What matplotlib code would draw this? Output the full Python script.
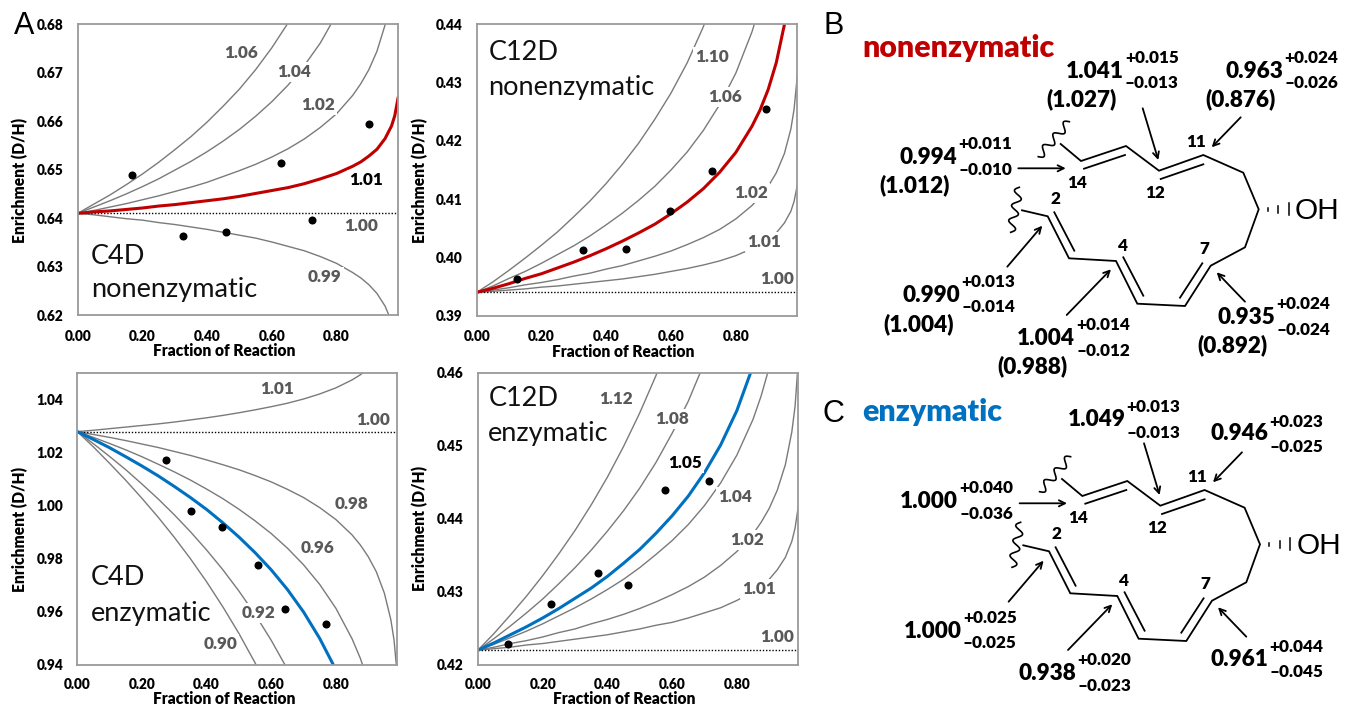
#D/H enrichment curves for the four reactions + the two labelled structures
import numpy as np
import matplotlib
matplotlib.use('Agg')
import matplotlib.pyplot as plt

plt.rcParams['font.family'] = ['Lato', 'DejaVu Sans']

W, H = 1346, 707
RED = '#C00000'
BLUE = '#0070C0'
GREY = '#7a7a7a'
LABEL = '#595959'
BOLD = 'heavy'

frac = [0, .05, .1, .15, .2, .25, .3, .35, .4, .45, .5, .55, .6, .65, .7, .75, .8, .85, .875, .9, .925, .95, .97, .98, .99]

#C4D nonenzymatic
c4n_106 = [.641, .6429, .6448, .6469, .6491, .6515, .6541, .6568, .6598, .6631, .6666, .6706, .6751, .6802, .6862]
c4n_104 = [.641, .6423, .6436, .6450, .6465, .6481, .6499, .6517, .6537, .6559, .6583, .6610, .6640, .6674, .6714, .6761, .6820]
c4n_102 = [.641, .6416, .6423, .6430, .6438, .6446, .6455, .6464, .6474, .6486, .6498, .6511, .6526, .6543, .6563, .6587, .6615, .6653, .6677, .6706, .6744, .6798, .6866]
c4n_101 = [.641, .6413, .6415, .6418, .6421, .6425, .6428, .6432, .6436, .6440, .6445, .6451, .6457, .6463, .6471, .6481, .6492, .6507, .6516, .6528, .6542, .6564, .6590, .6611, .6647]
c4n_099 = [.641, .6407, .6403, .6399, .6396, .6391, .6387, .6382, .6377, .6371, .6365, .6359, .6351, .6342, .6333, .6321, .6307, .6288, .6277, .6263, .6245, .6219, .6187]
c4n_dots_x = [.169, .327, .458, .629, .725, .899]
c4n_dots_y = [.6489, .6364, .6371, .6513, .6397, .6593]

#C12D nonenzymatic
c12n_110 = [.394, .3958, .3978, .3999, .4021, .4044, .4070, .4097, .4127, .4160, .4196, .4237, .4282, .4334, .4396, .4469, .4561]
c12n_106 = [.394, .3951, .3964, .3976, .3990, .4005, .4020, .4037, .4056, .4076, .4098, .4122, .4150, .4181, .4218, .4262, .4316, .4387, .4432, .4489]
c12n_fit = [.394, .3947, .3955, .3964, .3972, .3982, .3992, .4003, .4015, .4028, .4042, .4057, .4075, .4095, .4118, .4146, .4180, .4225, .4253, .4288, .4334, .4399, .4483]
c12n_102 = [.394, .3944, .3948, .3953, .3957, .3962, .3968, .3973, .3980, .3986, .3994, .4002, .4011, .4022, .4034, .4048, .4066, .4089, .4104, .4122, .4145, .4178, .4220, .4254, .4312]
c12n_101 = [.394, .3942, .3944, .3946, .3949, .3951, .3954, .3957, .3960, .3963, .3967, .3971, .3976, .3981, .3987, .3994, .4003, .4015, .4022, .4031, .4042, .4059, .4079, .4096, .4124]
c12n_dots_x = [.125, .329, .460, .598, .728, .892]
c12n_dots_y = [.3963, .4013, .4014, .4079, .4148, .4255]

#C4D enzymatic
c4e_101 = [1.028, 1.0285, 1.0291, 1.0297, 1.0303, 1.0309, 1.0316, 1.0324, 1.0332, 1.0341, 1.0351, 1.0362, 1.0374, 1.0387, 1.0403, 1.0422, 1.0445, 1.0475, 1.0494, 1.0517]
c4e_098 = [1.028, 1.0269, 1.0258, 1.0246, 1.0233, 1.0220, 1.0205, 1.0190, 1.0173, 1.0155, 1.0136, 1.0114, 1.0090, 1.0062, 1.0031, .9993, .9948, .9890, .9853, .9808, .9751, .9670, .9570, .9492, .9358]
c4e_096 = [1.028, 1.0258, 1.0235, 1.0211, 1.0185, 1.0157, 1.0128, 1.0097, 1.0063, 1.0027, .9987, .9943, .9895, .9840, .9777, .9703, .9613, .9498, .9426, .9339]
c4e_fit = [1.028, 1.0250, 1.0219, 1.0185, 1.0150, 1.0113, 1.0073, 1.0031, .9986, .9936, .9882, .9823, .9758, .9684, .9599, .9499, .9381]
c4e_092 = [1.028, 1.0234, 1.0186, 1.0136, 1.0082, 1.0026, .9966, .9902, .9833, .9759, .9678, .9590, .9492, .9383, .9258]
c4e_090 = [1.028, 1.0222, 1.0160, 1.0096, 1.0028, .9957, .9881, .9800, .9713, .9619, .9518, .9407, .9285]
c4e_dots_x = [.274, .352, .449, .558, .644, .770]
c4e_dots_y = [1.0172, .9981, .9921, .9775, .9609, .9552]

#C12D enzymatic
c12e_112 = [.422, .4243, .4268, .4294, .4322, .4352, .4384, .4419, .4457, .4499, .4545, .4596, .4655]
c12e_108 = [.422, .4236, .4253, .4271, .4290, .4311, .4333, .4357, .4383, .4411, .4442, .4477, .4517, .4561, .4614]
c12e_fit = [.422, .4230, .4241, .4252, .4264, .4277, .4291, .4305, .4321, .4339, .4358, .4380, .4404, .4431, .4463, .4501, .4548, .4609]
c12e_104 = [.422, .4228, .4237, .4246, .4256, .4267, .4278, .4290, .4303, .4317, .4333, .4351, .4370, .4392, .4418, .4449, .4487, .4536, .4568, .4607]
c12e_102 = [.422, .4224, .4229, .4233, .4238, .4244, .4249, .4256, .4262, .4269, .4277, .4286, .4296, .4307, .4320, .4336, .4355, .4379, .4395, .4414, .4439, .4474, .4519, .4554, .4616]
c12e_101 = [.422, .4222, .4224, .4227, .4229, .4232, .4235, .4238, .4241, .4245, .4249, .4254, .4258, .4264, .4271, .4278, .4288, .4300, .4308, .4317, .4330, .4347, .4369, .4387, .4417]
c12e_dots_x = [.094, .227, .370, .465, .579, .714]
c12e_dots_y = [.4229, .4283, .4326, .4309, .4440, .4452]

panels = [
	dict(box=(77.7, 24, 398, 315.3), ylim=(.62, .68), yt=[.62, .63, .64, .65, .66, .67, .68], r0=.641,
		grey=[c4n_106, c4n_104, c4n_102, c4n_099], fit=c4n_101, col=RED, dx=c4n_dots_x, dy=c4n_dots_y,
		xlab=(224, 351.5), ylab=(20, 180), ypad=14.4, xpad=10.5),
	dict(box=(476.7, 24.3, 797.3, 315.7), ylim=(.39, .44), yt=[.39, .40, .41, .42, .43, .44], r0=.394,
		grey=[c12n_110, c12n_106, c12n_102, c12n_101], fit=c12n_fit, col=RED, dx=c12n_dots_x, dy=c12n_dots_y,
		xlab=(623.3, 352), ylab=(420, 180), ypad=14, xpad=10.5),
	dict(box=(77.3, 373.3, 397.3, 664.7), ylim=(.94, 1.05), yt=[.94, .96, .98, 1.00, 1.02, 1.04], r0=1.028,
		grey=[c4e_101, c4e_098, c4e_096, c4e_092, c4e_090], fit=c4e_fit, col=BLUE, dx=c4e_dots_x, dy=c4e_dots_y,
		xlab=(224, 699), ylab=(20, 529), ypad=14, xpad=9.5),
	dict(box=(478, 372.7, 798.3, 664.7), ylim=(.42, .46), yt=[.42, .43, .44, .45, .46], r0=.422,
		grey=[c12e_112, c12e_108, c12e_104, c12e_102, c12e_101], fit=c12e_fit, col=BLUE, dx=c12e_dots_x, dy=c12e_dots_y,
		xlab=(624, 699), ylab=(420, 528), ypad=15, xpad=9.5),
]

fig = plt.figure(figsize=(W/100, H/100), dpi=100)

for p in panels:
	x0, y0, x1, y1 = p['box']
	ax = fig.add_axes([x0/W, 1-y1/H, (x1-x0)/W, (y1-y0)/H])
	for c in p['grey']:
		ax.plot(frac[:len(c)], c, color=GREY, lw=1.0)
	ax.plot([0, .99], [p['r0'], p['r0']], color='black', lw=1.0, ls=(0, (1, 1.3)))
	ax.plot(frac[:len(p['fit'])], p['fit'], color=p['col'], lw=2.2)
	ax.plot(p['dx'], p['dy'], 'o', color='black', ms=5.8, mew=0, zorder=5)
	ax.set_xlim(0, .99)
	ax.set_ylim(*p['ylim'])
	ax.set_xticks([0, .2, .4, .6, .8])
	ax.set_xticklabels(['%.2f' % t for t in [0, .2, .4, .6, .8]], fontsize=9.8, fontweight=BOLD)
	ax.set_yticks(p['yt'])
	ax.set_yticklabels(['%.2f' % t for t in p['yt']], fontsize=9.8, fontweight=BOLD)
	ax.tick_params(length=0)
	ax.tick_params(axis='x', pad=p['xpad'])
	ax.tick_params(axis='y', pad=p['ypad']/1.389)
	for s in ax.spines.values():
		s.set_color('#9a9a9a')
		s.set_linewidth(1.3)
	ax.set_xlabel('Fraction of Reaction', fontsize=11.2, fontweight=BOLD, va='center')
	ax.set_ylabel('Enrichment (D/H)', fontsize=11.2, fontweight=BOLD, va='center')
	ax.xaxis.set_label_coords((p['xlab'][0]-x0)/(x1-x0), (y1-p['xlab'][1])/(y1-y0), transform=ax.transAxes)
	ax.yaxis.set_label_coords((p['ylab'][0]-x0)/(x1-x0), (y1-p['ylab'][1])/(y1-y0), transform=ax.transAxes)

#overlay in figure pixels, for all the annotations and the structures
ov = fig.add_axes([0, 0, 1, 1], zorder=10)
ov.set_xlim(0, W)
ov.set_ylim(H, 0)
ov.axis('off')
ov.patch.set_alpha(0)

curve_labels = [
	('1.06', 241, 53.3, LABEL), ('1.04', 294.3, 72.3, LABEL), ('1.02', 317.7, 104.7, LABEL), ('1.01', 365.7, 180, 'black'),
	('1.00', 361.3, 225.7, LABEL), ('0.99', 324.7, 276.7, LABEL),
	('1.10', 712, 56.7, LABEL), ('1.06', 725, 97.3, LABEL), ('1.02', 751, 192.7, LABEL), ('1.01', 764, 241.7, LABEL),
	('1.00', 777.3, 279.3, LABEL),
	('1.01', 276.7, 388.7, LABEL), ('1.00', 372.7, 419.7, LABEL), ('0.98', 351.3, 503.7, LABEL), ('0.96', 317.7, 547.7, LABEL),
	('0.92', 258.7, 613.3, LABEL), ('0.90', 220.3, 644.3, LABEL),
	('1.12', 616, 399.3, LABEL), ('1.08', 672, 419.3, LABEL), ('1.05', 685.3, 462.7, 'black'), ('1.04', 735.3, 496.7, LABEL),
	('1.02', 747.3, 540.3, LABEL), ('1.01', 759.3, 589.3, LABEL), ('1.00', 777, 636.7, LABEL),
]
for s, x, y, c in curve_labels:
	ov.text(x, y, s, color=c, fontsize=12.3, fontweight=BOLD, ha='center', va='center',
		bbox=dict(fc='white', ec='none', pad=1.5))

panel_names = [
	('C4D', 90.7, 256), ('nonenzymatic', 90.7, 290),
	('C12D', 488.3, 52.7), ('nonenzymatic', 488.3, 87.7),
	('C4D', 90.7, 577.7), ('enzymatic', 90.7, 613.3),
	('C12D', 488.3, 398.3), ('enzymatic', 488.3, 433.3),
]
for s, x, y in panel_names:
	ov.text(x, y, s, fontsize=19.5, ha='left', va='center', color='#111111')

for s, x, y in [('A', 23.7, 26), ('B', 834, 26), ('C', 833.3, 414.3)]:
	ov.text(x, y, s, fontsize=22, family='Liberation Sans', ha='center', va='center')

ov.text(958.8, 48, 'nonenzymatic', color=RED, fontsize=21.8, fontweight=BOLD, ha='center', va='center')
ov.text(932, 412.3, 'enzymatic', color=BLUE, fontsize=21.8, fontweight=BOLD, ha='center', va='center')

#structure skeleton, in px
chain = [(1060.7, 144), (1081, 161), (1126, 146), (1159, 170.7), (1203.3, 155), (1243.3, 172.7), (1258.7, 209.3),
	(1245, 247.3), (1210.7, 265.7), (1185, 306), (1137.3, 303.7), (1116, 261), (1069, 258.3), (1047.7, 216.3), (1022, 210.3)]
inner_bonds = [((1084, 168.7), (1125, 155)), ((1160.7, 179), (1203.3, 164.3)), ((1054.3, 212.3), (1074.3, 250.7)),
	((1123.3, 257.3), (1143.3, 295.7)), ((1180, 297.7), (1202.3, 263.3))]
arrows = [((1018.3, 168.3), (1065.7, 168.3)), ((1142.7, 108.3), (1158.3, 160)), ((1240.7, 117.3), (1211.7, 147.3)),
	((1007.3, 266.7), (1042.3, 225.7)), ((1066.7, 315), (1111, 269.3)), ((1245, 301.7), (1216.7, 272.3))]
squiggles = [((1038.3, 156.7), (1069.3, 121.7)), ((1019.3, 187.3), (1010.7, 232.3))]
hash_x = [1267.7, 1278.3, 1289]
hash_h = [1.5, 3.5, 6]
OH_xy = (1317.3, 210.7)
atom_nums = [('11', 1195.7, 141.7), ('14', 1077, 183.3), ('12', 1155.3, 193.3), ('2', 1055, 199.3), ('4', 1122, 245.7), ('7', 1204, 249)]

def draw_structure(dx, dy):
	ov.plot([c[0]+dx for c in chain], [c[1]+dy for c in chain], color='black', lw=1.3, solid_joinstyle='miter')
	for a, b in inner_bonds:
		ov.plot([a[0]+dx, b[0]+dx], [a[1]+dy, b[1]+dy], color='black', lw=1.3)
	for a, b in arrows:
		ov.annotate('', xy=(b[0]+dx, b[1]+dy), xytext=(a[0]+dx, a[1]+dy),
			arrowprops=dict(arrowstyle='->', color='black', lw=1.3, mutation_scale=11, shrinkA=0, shrinkB=0))
	for a, b in squiggles:
		t = np.linspace(0, 1, 80)
		ax_, ay_ = b[0]-a[0], b[1]-a[1]
		n = np.hypot(ax_, ay_)
		off = 4.2*np.sin(t*2*np.pi*3)
		ov.plot(a[0]+dx+ax_*t-ay_/n*off, a[1]+dy+ay_*t+ax_/n*off, color='black', lw=1.2)
	for x, h in zip(hash_x, hash_h):
		ov.plot([x+dx, x+dx], [OH_xy[1]-1.5-h+dy, OH_xy[1]-1.5+h+dy], color='black', lw=1.1)
	ov.text(OH_xy[0]+dx, OH_xy[1]+dy, 'OH', fontsize=21.5, family='Liberation Sans', ha='center', va='center')
	for s, x, y in atom_nums:
		ov.text(x+dx, y+dy, s, fontsize=12.3, fontweight=BOLD, ha='center', va='center')

draw_structure(0, 0)
draw_structure(1.3, 335)

big_labels = [
	('1.041', 1095, 71.7), ('(1.027)', 1081.7, 99.3), ('0.963', 1254, 71.7), ('(0.876)', 1240, 99.3),
	('0.994', 928, 157.3), ('(1.012)', 914.3, 185), ('0.990', 931.3, 295.7), ('(1.004)', 918.3, 324),
	('1.004', 1046.3, 338.7), ('(0.988)', 1032.3, 366.7), ('0.935', 1246, 317.3), ('(0.892)', 1232.3, 345.7),
	('1.049', 1096.7, 420), ('0.946', 1239.3, 433.3), ('1.000', 929, 501.7), ('1.000', 933.3, 631.7),
	('0.938', 1047.3, 673.3), ('0.961', 1239.3, 659.7),
]
small_labels = [
	('+0.015', 1151.7, 58.3), ('–0.013', 1151.7, 83.3), ('+0.024', 1311, 58.3), ('–0.026', 1311, 83.3),
	('+0.011', 985, 144.3), ('–0.010', 985, 170), ('+0.013', 988.3, 282.3), ('–0.014', 988.3, 307),
	('+0.014', 1103.3, 325), ('–0.012', 1103.3, 351), ('+0.024', 1303.3, 304), ('–0.024', 1303.3, 330),
	('+0.013', 1153.3, 407.3), ('–0.013', 1153.3, 433.3), ('+0.023', 1296.3, 421.7), ('–0.025', 1296.3, 446.7),
	('+0.040', 986, 488.3), ('–0.036', 986, 514.3), ('+0.025', 989.7, 618.3), ('–0.025', 989.7, 643.3),
	('+0.020', 1104.3, 660.3), ('–0.023', 1104.3, 686.3), ('+0.044', 1296.3, 646.7), ('–0.045', 1296.3, 671.7),
]
for s, x, y in big_labels:
	ov.text(x, y, s, fontsize=16.2, fontweight=BOLD, ha='center', va='center')
for s, x, y in small_labels:
	ov.text(x, y, s, fontsize=12.3, fontweight=BOLD, ha='center', va='center')

fig.savefig('out.png', dpi=100)
